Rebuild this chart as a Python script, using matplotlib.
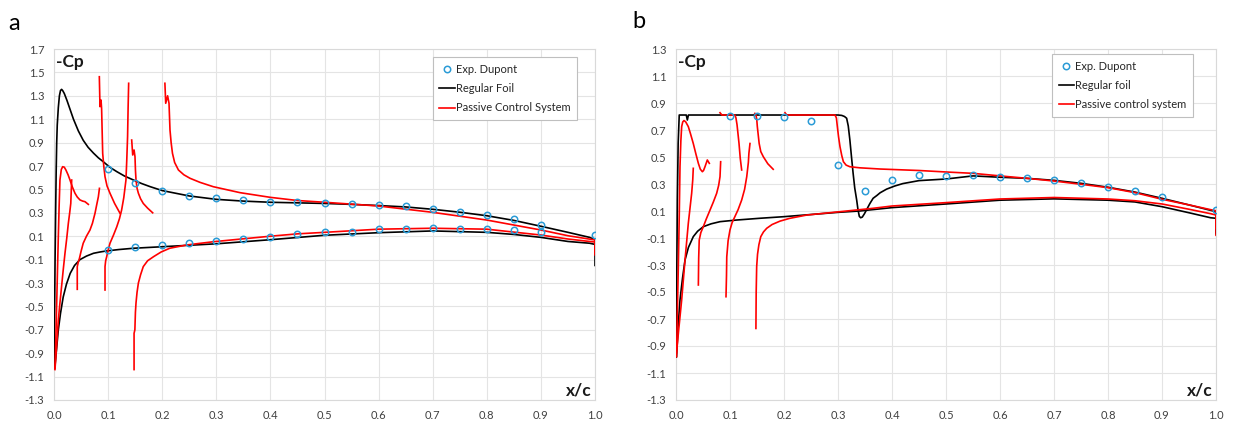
import numpy as np
import matplotlib.pyplot as plt

plt.rcParams['font.family'] = ['Lato', 'DejaVu Sans']
plt.rcParams['axes.unicode_minus'] = False

# ---- panel a : experimental data (Dupont) ----
exp_a_up_x = [0.10, 0.15, 0.20, 0.25, 0.30, 0.35, 0.40, 0.45, 0.50, 0.55, 0.60, 0.65, 0.70, 0.75, 0.80, 0.85, 0.90, 1.00]
exp_a_up_y = [0.674, 0.552, 0.486, 0.444, 0.424, 0.41, 0.392, 0.392, 0.384, 0.375, 0.367, 0.355, 0.33, 0.31, 0.28, 0.25, 0.20, 0.113]
exp_a_lo_x = [0.10, 0.15, 0.20, 0.25, 0.30, 0.35, 0.40, 0.45, 0.50, 0.55, 0.60, 0.65, 0.70, 0.75, 0.80, 0.85, 0.90]
exp_a_lo_y = [-0.018, 0.008, 0.022, 0.045, 0.062, 0.073, 0.09, 0.116, 0.133, 0.136, 0.159, 0.159, 0.167, 0.16, 0.165, 0.153, 0.133]

# ---- panel a : regular foil ----
reg_a_up_x = [0.0, 0.001, 0.002, 0.003, 0.004, 0.005, 0.006, 0.008, 0.010, 0.012, 0.014, 0.016, 0.019, 0.024, 0.030,
              0.036, 0.045, 0.054, 0.063, 0.073, 0.082, 0.091, 0.103, 0.116, 0.13, 0.147, 0.162, 0.178,
              0.2, 0.25, 0.3, 0.35, 0.4, 0.45, 0.5, 0.55, 0.6, 0.65, 0.7, 0.75, 0.8, 0.85, 0.9, 0.95, 0.99, 1.0, 1.0]
reg_a_up_y = [-1.03, -0.6, -0.1, 0.3, 0.65, 0.9, 1.05, 1.2, 1.3, 1.345, 1.355, 1.345, 1.32, 1.26, 1.18,
              1.1, 1.0, 0.92, 0.86, 0.81, 0.77, 0.737, 0.69, 0.652, 0.615, 0.58, 0.55, 0.523,
              0.49, 0.444, 0.415, 0.40, 0.39, 0.385, 0.38, 0.372, 0.362, 0.35, 0.33, 0.305, 0.275, 0.235, 0.185, 0.133, 0.09, 0.07, -0.15]
reg_a_lo_x = [0.0, 0.002, 0.005, 0.008, 0.012, 0.017, 0.023, 0.03, 0.038, 0.048, 0.06, 0.073, 0.085, 0.097, 0.12, 0.147,
              0.2, 0.3, 0.4, 0.5, 0.6, 0.7, 0.8, 0.85, 0.9, 0.95, 0.99, 1.0]
reg_a_lo_y = [-1.03, -1.0, -0.85, -0.70, -0.56, -0.42, -0.31, -0.217, -0.15, -0.10, -0.07, -0.046, -0.035, -0.026, -0.014, -0.003,
              0.01, 0.035, 0.07, 0.108, 0.13, 0.145, 0.133, 0.115, 0.09, 0.055, 0.04, 0.03]

# ---- panel a : passive control system (segments between slots) ----
pcs_a_seg1_x = [0.0018, 0.0035, 0.005, 0.0065, 0.008, 0.0095, 0.011, 0.0135, 0.016, 0.019, 0.022, 0.026, 0.0296,
                0.034, 0.0388, 0.043, 0.048, 0.053, 0.0573, 0.0635]
pcs_a_seg1_y = [-1.03, -0.75, -0.47, -0.18, 0.096, 0.36, 0.58, 0.67, 0.694, 0.69, 0.666, 0.625, 0.58,
                0.52, 0.467, 0.435, 0.41, 0.40, 0.395, 0.372]
pcs_a_seg2_x = [0.0018, 0.005, 0.008, 0.011, 0.014, 0.017, 0.0203, 0.0235, 0.0265, 0.029, 0.031, 0.0327]
pcs_a_seg2_y = [-1.04, -0.83, -0.616, -0.47, -0.33, -0.19, -0.046, 0.08, 0.21, 0.30, 0.38, 0.58]
pcs_a_seg3_x = [0.043, 0.043, 0.045, 0.047, 0.050, 0.054, 0.06, 0.0665, 0.071, 0.0758, 0.079, 0.082, 0.084]
pcs_a_seg3_y = [-0.354, -0.16, -0.12, -0.09, -0.03, 0.04, 0.10, 0.153, 0.21, 0.296, 0.37, 0.437, 0.509]
pcs_a_seg4_x = [0.0838, 0.085, 0.0869, 0.088, 0.089, 0.09, 0.092, 0.0943, 0.098, 0.1035, 0.112, 0.122]
pcs_a_seg4_y = [1.463, 1.207, 1.264, 1.19, 1.0, 0.808, 0.70, 0.608, 0.53, 0.467, 0.38, 0.296]
pcs_a_seg5_x = [0.0943, 0.0943, 0.0955, 0.0974, 0.1, 0.1035, 0.11, 0.116, 0.121, 0.125, 0.129, 0.133, 0.1345, 0.136, 0.137, 0.138]
pcs_a_seg5_y = [-0.36, -0.16, -0.11, -0.075, -0.02, 0.04, 0.11, 0.18, 0.25, 0.324, 0.43, 0.58, 0.75, 0.95, 1.2, 1.407]
pcs_a_seg6_x = [0.1436, 0.1455, 0.148, 0.1497, 0.1506, 0.1516, 0.1535, 0.156, 0.16, 0.165, 0.173, 0.1824]
pcs_a_seg6_y = [0.922, 0.794, 0.837, 0.78, 0.66, 0.58, 0.51, 0.467, 0.42, 0.38, 0.34, 0.30]
pcs_a_seg7_x = [0.148, 0.148, 0.1495, 0.1505, 0.1516, 0.1535, 0.156, 0.16, 0.165, 0.173, 0.184, 0.198, 0.214,
                0.245, 0.295, 0.344, 0.4, 0.45, 0.5, 0.6, 0.7, 0.8, 0.9, 0.95, 0.99, 1.0, 1.0]
pcs_a_seg7_y = [-1.04, -0.73, -0.70, -0.55, -0.47, -0.38, -0.30, -0.23, -0.16, -0.11, -0.075, -0.035, -0.003,
                0.025, 0.053, 0.075, 0.10, 0.12, 0.133, 0.16, 0.168, 0.16, 0.11, 0.076, 0.055, 0.05, -0.06]
pcs_a_seg8_x = [0.205, 0.2065, 0.21, 0.2126, 0.2144, 0.2165, 0.219, 0.223, 0.23, 0.24, 0.2514, 0.27, 0.2945, 0.344,
                0.4, 0.45, 0.5, 0.6, 0.7, 0.8, 0.9, 0.95, 0.99, 1.0, 1.0]
pcs_a_seg8_y = [1.407, 1.236, 1.30, 1.236, 1.008, 0.90, 0.808, 0.73, 0.666, 0.625, 0.595, 0.56, 0.523, 0.472,
                0.432, 0.405, 0.39, 0.358, 0.304, 0.238, 0.153, 0.104, 0.075, 0.068, -0.05]

# ---- panel b : experimental data (Dupont) ----
exp_b_x = [0.10, 0.15, 0.20, 0.25, 0.30, 0.35, 0.40, 0.45, 0.50, 0.55, 0.60, 0.65, 0.70, 0.75, 0.80, 0.85, 0.90, 1.00]
exp_b_y = [0.804, 0.804, 0.794, 0.769, 0.438, 0.25, 0.327, 0.364, 0.362, 0.364, 0.35, 0.342, 0.333, 0.305, 0.276, 0.245, 0.203, 0.107]

# ---- panel b : regular foil ----
reg_b_up_x = [0.0, 0.001, 0.0025, 0.004, 0.006, 0.019, 0.021, 0.023, 0.3, 0.307, 0.312, 0.316, 0.319, 0.322, 0.325, 0.328,
              0.331, 0.3346, 0.337, 0.3395, 0.342, 0.345, 0.349, 0.353, 0.359, 0.365, 0.372, 0.378, 0.39, 0.405, 0.42, 0.45,
              0.5, 0.55, 0.6, 0.65, 0.7, 0.75, 0.8, 0.85, 0.9, 0.95, 0.99, 1.0, 1.0]
reg_b_up_y = [-0.98, -0.6, 0.181, 0.6, 0.811, 0.811, 0.774, 0.811, 0.811, 0.808, 0.80, 0.787, 0.73, 0.626, 0.50, 0.379,
              0.27, 0.181, 0.11, 0.06, 0.05, 0.055, 0.08, 0.11, 0.155, 0.194, 0.215, 0.235, 0.262, 0.285, 0.303, 0.325,
              0.337, 0.36, 0.35, 0.342, 0.327, 0.305, 0.276, 0.24, 0.194, 0.145, 0.105, 0.095, -0.07]
reg_b_lo_x = [0.0, 0.001, 0.004, 0.0074, 0.012, 0.0167, 0.023, 0.032, 0.04, 0.0506, 0.065, 0.0815, 0.112, 0.155, 0.2,
              0.3, 0.34, 0.4, 0.5, 0.6, 0.7, 0.8, 0.85, 0.9, 0.95, 0.99, 1.0, 1.0]
reg_b_lo_y = [-0.98, -0.98, -0.75, -0.559, -0.40, -0.263, -0.17, -0.09, -0.05, -0.016, 0.005, 0.021, 0.033, 0.046, 0.058,
              0.09, 0.10, 0.125, 0.152, 0.18, 0.19, 0.18, 0.167, 0.132, 0.087, 0.05, 0.046, -0.06]

# ---- panel b : passive control system ----
pcs_b_seg1_x = [0.001, 0.0025, 0.0043, 0.006, 0.0074, 0.009, 0.0105, 0.0125, 0.0148, 0.018, 0.0228, 0.027, 0.032,
                0.037, 0.0414, 0.045, 0.0488, 0.051, 0.0537, 0.058, 0.0617]
pcs_b_seg1_y = [-0.98, -0.65, -0.312, 0.06, 0.428, 0.62, 0.725, 0.76, 0.77, 0.76, 0.725, 0.67, 0.60,
                0.52, 0.453, 0.41, 0.391, 0.40, 0.428, 0.478, 0.453]
pcs_b_seg2_x = [0.001, 0.005, 0.0105, 0.0167, 0.0228, 0.029, 0.031, 0.032]
pcs_b_seg2_y = [-0.95, -0.78, -0.559, -0.263, 0.009, 0.231, 0.33, 0.416]
pcs_b_seg3_x = [0.0414, 0.042, 0.043, 0.046, 0.0506, 0.056, 0.063, 0.069, 0.0753, 0.079, 0.0815, 0.0827]
pcs_b_seg3_y = [-0.448, -0.25, -0.115, -0.06, -0.016, 0.04, 0.107, 0.165, 0.231, 0.29, 0.354, 0.465]
pcs_b_seg4_x = [0.0815, 0.085, 0.109, 0.111, 0.113, 0.1167, 0.119, 0.1216]
pcs_b_seg4_y = [0.828, 0.811, 0.811, 0.79, 0.74, 0.60, 0.49, 0.404]
pcs_b_seg5_x = [0.0926, 0.0935, 0.094, 0.0965, 0.1, 0.104, 0.109, 0.115, 0.1216, 0.127, 0.131, 0.134, 0.135, 0.137]
pcs_b_seg5_y = [-0.535, -0.38, -0.24, -0.12, -0.04, 0.015, 0.058, 0.11, 0.181, 0.26, 0.354, 0.46, 0.527, 0.60]
pcs_b_seg6_x = [0.146, 0.148, 0.1495, 0.1506, 0.154, 0.157, 0.1617, 0.17, 0.18]
pcs_b_seg6_y = [0.823, 0.811, 0.78, 0.725, 0.60, 0.54, 0.502, 0.45, 0.409]
pcs_b_seg7_x = [0.148, 0.1485, 0.1494, 0.151, 0.1535, 0.157, 0.162, 0.168, 0.178, 0.1926, 0.21, 0.242, 0.3037, 0.365, 0.4,
                0.5, 0.6, 0.7, 0.8, 0.85, 0.9, 0.95, 0.99, 1.0, 1.0]
pcs_b_seg7_y = [-0.77, -0.5, -0.312, -0.22, -0.15, -0.09, -0.055, -0.028, 0.0, 0.025, 0.045, 0.07, 0.095, 0.12, 0.137,
                0.162, 0.189, 0.20, 0.189, 0.176, 0.152, 0.113, 0.08, 0.07, -0.08]
pcs_b_seg8_x = [0.2019, 0.205, 0.2944, 0.297, 0.2988, 0.301, 0.3037, 0.307, 0.31, 0.315, 0.322, 0.34, 0.378, 0.45,
                0.5, 0.55, 0.6, 0.65, 0.7, 0.75, 0.8, 0.85, 0.9, 0.95, 0.99, 1.0, 1.0]
pcs_b_seg8_y = [0.828, 0.811, 0.811, 0.79, 0.725, 0.65, 0.576, 0.51, 0.465, 0.44, 0.428, 0.42, 0.411, 0.40,
                0.389, 0.379, 0.36, 0.342, 0.322, 0.298, 0.273, 0.236, 0.187, 0.145, 0.11, 0.102, -0.03]

x_ticks = np.arange(0.0, 1.01, 0.1)
a_yticks = np.arange(-1.3, 1.71, 0.2)
b_yticks = np.arange(-1.3, 1.31, 0.2)

EXP_BLUE = '#2a9bd6'
RED = '#ff0000'
GRID = '#e4e4e4'

fig = plt.figure(figsize=(12.4, 4.22), dpi=100)
ax_a = fig.add_axes([54 / 1240, 22 / 422, 541 / 1240, 351 / 422])
ax_b = fig.add_axes([676 / 1240, 22 / 422, 540 / 1240, 351 / 422])


def style_axes(ax, yticks, ylim):
    ax.set_xlim(0, 1.0)
    ax.set_ylim(*ylim)
    ax.set_xticks(x_ticks)
    ax.set_yticks(yticks)
    ax.set_xticklabels([f"{v:.1f}" for v in x_ticks])
    ax.set_yticklabels([f"{v:.1f}" for v in yticks])
    ax.grid(True, color=GRID, linewidth=0.8)
    ax.set_axisbelow(True)
    ax.tick_params(length=0, labelsize=8, colors='#404040', pad=7)
    for s in ax.spines.values():
        s.set_color('#d9d9d9')
        s.set_linewidth(0.8)
    ax.text(0.004, 0.985, '-Cp', transform=ax.transAxes, ha='left', va='top',
            fontsize=12.5, fontweight='bold', color='#1a1a1a')
    ax.text(0.994, 0.005, 'x/c', transform=ax.transAxes, ha='right', va='bottom',
            fontsize=12.5, fontweight='bold', color='#1a1a1a')


lw = 1.2
mk = dict(linestyle='none', marker='o', markersize=4.6, markerfacecolor='none',
          markeredgecolor=EXP_BLUE, markeredgewidth=1.1, color=EXP_BLUE)

# ---- panel a ----
style_axes(ax_a, a_yticks, (-1.3, 1.7))
ax_a.plot(exp_a_up_x, exp_a_up_y, label='Exp. Dupont', zorder=4, **mk)
ax_a.plot(exp_a_lo_x, exp_a_lo_y, zorder=4, **mk)
ax_a.plot(reg_a_up_x, reg_a_up_y, color='black', lw=lw, label='Regular Foil', zorder=3)
ax_a.plot(reg_a_lo_x, reg_a_lo_y, color='black', lw=lw, zorder=3)
segs_a = [(pcs_a_seg1_x, pcs_a_seg1_y), (pcs_a_seg2_x, pcs_a_seg2_y), (pcs_a_seg3_x, pcs_a_seg3_y),
          (pcs_a_seg4_x, pcs_a_seg4_y), (pcs_a_seg5_x, pcs_a_seg5_y), (pcs_a_seg6_x, pcs_a_seg6_y),
          (pcs_a_seg7_x, pcs_a_seg7_y), (pcs_a_seg8_x, pcs_a_seg8_y)]
for i, (sx, sy) in enumerate(segs_a):
    ax_a.plot(sx, sy, color=RED, lw=lw, zorder=3,
              label='Passive Control System' if i == 0 else None)

# ---- panel b ----
style_axes(ax_b, b_yticks, (-1.3, 1.3))
ax_b.plot(exp_b_x, exp_b_y, label='Exp. Dupont', zorder=4, **mk)
ax_b.plot(reg_b_up_x, reg_b_up_y, color='black', lw=lw, label='Regular foil', zorder=3)
ax_b.plot(reg_b_lo_x, reg_b_lo_y, color='black', lw=lw, zorder=3)
segs_b = [(pcs_b_seg1_x, pcs_b_seg1_y), (pcs_b_seg2_x, pcs_b_seg2_y), (pcs_b_seg3_x, pcs_b_seg3_y),
          (pcs_b_seg4_x, pcs_b_seg4_y), (pcs_b_seg5_x, pcs_b_seg5_y), (pcs_b_seg6_x, pcs_b_seg6_y),
          (pcs_b_seg7_x, pcs_b_seg7_y), (pcs_b_seg8_x, pcs_b_seg8_y)]
for i, (sx, sy) in enumerate(segs_b):
    ax_b.plot(sx, sy, color=RED, lw=lw, zorder=3,
              label='Passive control system' if i == 0 else None)

for ax, anchor in ((ax_a, (0.70, 0.977)), (ax_b, (0.696, 0.986))):
    leg = ax.legend(loc='upper left', bbox_to_anchor=anchor, fontsize=8, frameon=True,
                    fancybox=False, framealpha=1, edgecolor='#bfbfbf', handlelength=1.4,
                    handletextpad=0.1, labelspacing=0.75, borderpad=0.6, borderaxespad=0)
    leg.get_frame().set_linewidth(0.8)
    for t in leg.get_texts():
        t.set_color('#262626')

fig.text(8 / 1240, 1 - 30 / 422, 'a', fontsize=17, ha='left', va='baseline')
fig.text(632 / 1240, 1 - 28 / 422, 'b', fontsize=17, ha='left', va='baseline')

fig.savefig('out.png', dpi=100)
